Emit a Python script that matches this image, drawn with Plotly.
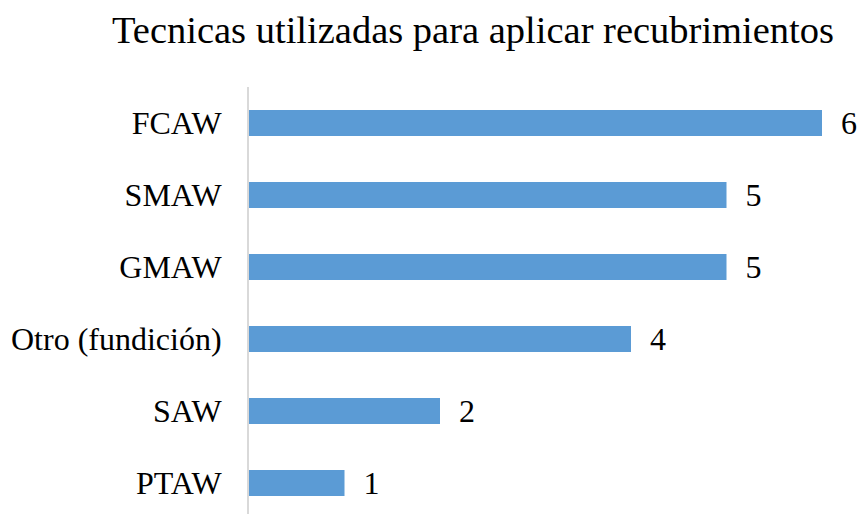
import plotly.graph_objects as go

tecnicas = ["PTAW", "SAW", "Otro (fundición)", "GMAW", "SMAW", "FCAW"]
cantidad = [1, 2, 4, 5, 5, 6]

fig = go.Figure(go.Bar(
    x=cantidad,
    y=tecnicas,
    orientation="h",
    marker=dict(color="#5B9BD5", line=dict(width=0)),
    width=0.36,
    texttemplate="\u00a0\u00a0%{x}",
    textposition="outside",
    constraintext="none",
    textfont=dict(family="Liberation Serif", size=32, color="#000000"),
    cliponaxis=False,
))

fig.update_layout(
    width=860,
    height=514,
    title=dict(text="Tecnicas utilizadas para aplicar recubrimientos",
               x=0.55, xanchor="center", y=0.942, yanchor="middle",
               font=dict(family="Liberation Serif", size=38.5, color="#000000")),
    margin=dict(l=249, r=38, t=87, b=0),
    plot_bgcolor="white",
    paper_bgcolor="white",
    showlegend=False,
)
fig.update_xaxes(range=[0, 6], visible=False, showgrid=False)
fig.update_yaxes(
    range=[-0.43, 5.5],
    showgrid=False,
    showline=True,
    linecolor="#d9d9d9",
    linewidth=2,
    ticks="",
    ticklabelstandoff=19,
    tickfont=dict(family="Liberation Serif", size=32, color="#000000"),
)

# drop the default page margin so the figure sits at the window corner
fig.write_html("out.html", config={"displayModeBar": False},
               post_script="document.body.style.margin='0';")
